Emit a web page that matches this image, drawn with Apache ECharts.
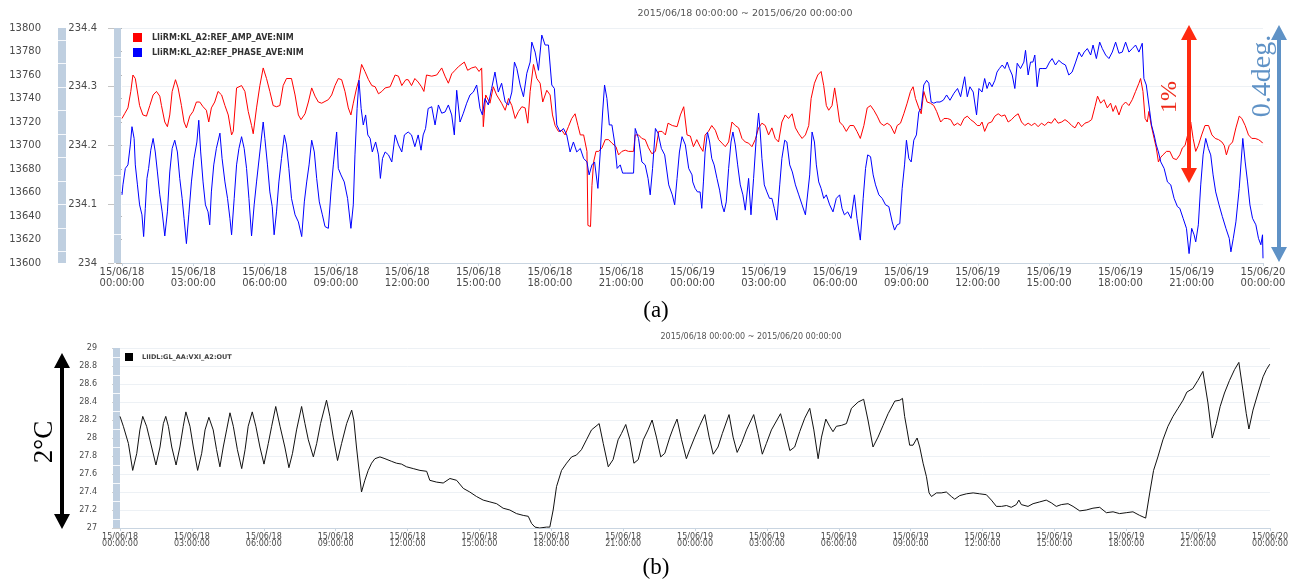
<!DOCTYPE html>
<html>
<head>
<meta charset="utf-8">
<script src="https://cdn.jsdelivr.net/npm/echarts@6/dist/echarts.min.js"></script>
<style>
html,body{margin:0;padding:0;background:#fff;}
#c{width:1292px;height:583px;}
</style>
</head>
<body>
<div id="c"></div>
<script>
// ---- Data (hours since 2015/06/18 00:00:00, value) ----
const xTickLabels = ['15/06/18\n00:00:00','15/06/18\n03:00:00','15/06/18\n06:00:00','15/06/18\n09:00:00','15/06/18\n12:00:00','15/06/18\n15:00:00','15/06/18\n18:00:00','15/06/18\n21:00:00','15/06/19\n00:00:00','15/06/19\n03:00:00','15/06/19\n06:00:00','15/06/19\n09:00:00','15/06/19\n12:00:00','15/06/19\n15:00:00','15/06/19\n18:00:00','15/06/19\n21:00:00','15/06/20\n00:00:00'];
const titleText = '2015/06/18 00:00:00 ~ 2015/06/20 00:00:00';
const ampName = 'LIiRM:KL_A2:REF_AMP_AVE:NIM';
const phaseName = 'LIiRM:KL_A2:REF_PHASE_AVE:NIM';
const tempName = 'LIIDL:GL_AA:VXI_A2:OUT';

const ampPoints = [[0,13723],[0.11,13727],[0.25,13732],[0.37,13746],[0.46,13760],[0.56,13757],[0.67,13743],[0.74,13734],[0.88,13726],[1.03,13725],[1.17,13734],[1.31,13743],[1.45,13746],[1.59,13742],[1.66,13734],[1.80,13720],[1.91,13716],[2.01,13726],[2.11,13746],[2.25,13756],[2.36,13749],[2.50,13734],[2.61,13720],[2.71,13715],[2.85,13725],[2.99,13729],[3.13,13737],[3.27,13737],[3.41,13733],[3.55,13730],[3.65,13720],[3.76,13732],[3.90,13737],[4.04,13746],[4.19,13743],[4.33,13734],[4.47,13726],[4.61,13709],[4.68,13712],[4.82,13749],[5.03,13751],[5.17,13746],[5.31,13729],[5.45,13717],[5.52,13710],[5.66,13732],[5.80,13751],[5.94,13766],[6.08,13757],[6.22,13746],[6.36,13734],[6.50,13733],[6.64,13734],[6.78,13751],[6.92,13757],[7.13,13757],[7.28,13743],[7.42,13726],[7.53,13722],[7.70,13727],[7.84,13737],[7.98,13749],[8.12,13742],[8.26,13737],[8.40,13736],[8.68,13739],[8.82,13743],[8.96,13751],[9.10,13757],[9.24,13756],[9.38,13746],[9.52,13732],[9.63,13726],[9.73,13736],[9.87,13749],[9.97,13756],[10.08,13769],[10.22,13763],[10.37,13756],[10.51,13751],[10.65,13750],[10.79,13744],[10.93,13746],[11.07,13749],[11.28,13750],[11.49,13760],[11.63,13759],[11.77,13751],[11.94,13756],
[12.04,13756],[12.18,13751],[12.32,13757],[12.46,13754],[12.60,13750],[12.70,13746],[12.81,13760],[13.03,13759],[13.24,13760],[13.45,13766],[13.59,13759],[13.73,13753],[13.87,13761],[14.01,13764],[14.15,13767],[14.40,13771],[14.54,13764],[14.71,13766],[14.88,13767],[15.02,13763],[15.13,13766],[15.20,13716],[15.30,13743],[15.48,13736],[15.62,13750],[15.76,13743],[15.97,13736],[16.12,13730],[16.26,13740],[16.40,13734],[16.54,13723],[16.68,13729],[16.82,13733],[16.96,13732],[17.07,13719],[17.17,13746],[17.31,13769],[17.45,13757],[17.59,13753],[17.70,13737],[17.87,13747],[18.01,13743],[18.11,13726],[18.22,13717],[18.36,13712],[18.50,13713],[18.64,13709],[18.78,13716],[18.92,13723],[19.06,13727],[19.18,13717],[19.28,13709],[19.42,13709],[19.56,13695],[19.60,13632],[19.71,13631],[19.77,13666],[19.84,13686],[19.94,13695],[20.05,13695],[20.19,13698],[20.33,13705],[20.47,13705],[20.61,13702],[20.78,13699],[20.89,13692],[21.03,13695],[21.17,13696],[21.31,13695],[21.52,13695],[21.59,13709],[21.73,13709],[21.87,13706],[22.01,13705],[22.15,13698],[22.29,13693],[22.44,13695],[22.58,13712],[22.72,13712],[22.86,13709],[22.97,13719],[23.15,13717],[23.35,13716],[23.49,13726],[23.63,13733],[23.77,13709],[23.91,13708],
[24.04,13699],[24.18,13705],[24.32,13699],[24.44,13695],[24.53,13709],[24.67,13712],[24.81,13717],[24.96,13713],[25.10,13705],[25.24,13702],[25.38,13699],[25.52,13703],[25.66,13720],[25.80,13717],[25.94,13715],[26.08,13706],[26.22,13703],[26.36,13702],[26.50,13699],[26.64,13705],[26.78,13715],[26.92,13719],[27.06,13717],[27.20,13709],[27.34,13715],[27.48,13706],[27.62,13703],[27.76,13720],[27.90,13726],[28.04,13723],[28.19,13727],[28.33,13715],[28.47,13710],[28.61,13706],[28.75,13709],[28.89,13717],[28.99,13740],[29.13,13753],[29.27,13760],[29.41,13763],[29.52,13751],[29.63,13734],[29.73,13730],[29.87,13734],[29.98,13749],[30.08,13736],[30.19,13720],[30.33,13717],[30.47,13712],[30.62,13717],[30.78,13717],[30.92,13712],[31.06,13706],[31.21,13717],[31.35,13732],[31.49,13734],[31.63,13730],[31.77,13725],[31.91,13719],[32.05,13717],[32.19,13719],[32.33,13717],[32.50,13710],[32.61,13717],[32.75,13719],[32.89,13727],[33.03,13736],[33.17,13746],[33.28,13750],[33.38,13740],[33.52,13732],[33.62,13727],[33.73,13746],[33.87,13737],[34.01,13736],[34.15,13734],[34.27,13729],[34.44,13720],[34.58,13723],[34.72,13723],[34.86,13722],[35.00,13717],[35.15,13719],[35.28,13717],[35.42,13723],[35.56,13725],[35.70,13722],[35.84,13720],[35.98,13717],[36.09,13717],
[36.18,13720],[36.29,13712],[36.44,13719],[36.58,13720],[36.72,13725],[36.86,13727],[37.00,13725],[37.14,13726],[37.28,13720],[37.42,13722],[37.56,13725],[37.70,13727],[37.84,13720],[37.98,13717],[38.12,13719],[38.26,13717],[38.40,13719],[38.54,13716],[38.68,13719],[38.82,13717],[38.96,13720],[39.10,13719],[39.24,13723],[39.38,13719],[39.53,13720],[39.67,13722],[39.81,13720],[39.95,13717],[40.09,13715],[40.23,13720],[40.37,13716],[40.51,13719],[40.65,13720],[40.79,13722],[40.93,13733],[41.04,13742],[41.17,13736],[41.31,13739],[41.45,13732],[41.59,13736],[41.69,13729],[41.80,13734],[41.94,13726],[42.08,13734],[42.22,13737],[42.36,13734],[42.50,13739],[42.64,13746],[42.78,13753],[42.85,13757],[42.95,13746],[43.04,13723],[43.13,13720],[43.20,13729],[43.30,13717],[43.42,13706],[43.51,13698],[43.60,13686],[43.70,13690],[43.79,13692],[43.94,13695],[44.08,13695],[44.22,13689],[44.36,13688],[44.50,13692],[44.61,13698],[44.72,13700],[44.83,13709],[44.96,13720],[45.06,13706],[45.17,13695],[45.28,13700],[45.42,13709],[45.56,13717],[45.71,13717],[45.85,13709],[45.99,13706],[46.13,13705],[46.27,13703],[46.37,13700],[46.46,13692],[46.58,13700],[46.72,13703],[46.86,13715],[47.00,13725],[47.11,13723],[47.25,13717],[47.39,13709],[47.53,13706],[47.67,13706],[47.81,13705],[47.95,13703],[47.98,13702]];

const phasePoints = [[0,234.116],[0.04,234.133],[0.14,234.161],[0.25,234.167],[0.35,234.201],[0.42,234.232],[0.51,234.212],[0.56,234.167],[0.65,234.133],[0.74,234.099],[0.84,234.082],[0.91,234.045],[0.98,234.093],[1.05,234.144],[1.12,234.161],[1.21,234.192],[1.31,234.212],[1.40,234.189],[1.49,234.155],[1.59,234.116],[1.69,234.087],[1.80,234.046],[1.91,234.087],[2.01,234.155],[2.11,234.195],[2.22,234.209],[2.33,234.189],[2.43,234.144],[2.53,234.110],[2.61,234.076],[2.71,234.033],[2.81,234.082],[2.92,234.138],[3.03,234.178],[3.15,234.206],[3.23,234.243],[3.31,234.189],[3.41,234.138],[3.51,234.099],[3.62,234.087],[3.69,234.065],[3.76,234.121],[3.86,234.167],[3.97,234.195],[4.12,234.221],[4.21,234.178],[4.33,234.138],[4.44,234.110],[4.54,234.076],[4.61,234.048],[4.72,234.110],[4.82,234.167],[4.92,234.195],[5.03,234.215],[5.14,234.195],[5.24,234.161],[5.34,234.110],[5.45,234.046],[5.56,234.099],[5.66,234.138],[5.80,234.189],[5.94,234.240],[6.01,234.212],[6.12,234.167],[6.22,234.121],[6.32,234.096],[6.40,234.048],[6.50,234.087],[6.60,234.138],[6.71,234.178],[6.83,234.218],[6.92,234.201],[7.02,234.161],[7.13,234.110],[7.28,234.082],[7.42,234.070],[7.56,234.045],[7.67,234.104],[7.77,234.138],[7.87,234.167],[7.98,234.209],[8.09,234.189],[8.19,234.144],[8.30,234.104],[8.43,234.082],[8.54,234.062],[8.68,234.059],[8.79,234.121],[8.89,234.167],[9.03,234.223],[9.10,234.161],[9.21,234.150],[9.35,234.138],[9.49,234.110],[9.63,234.059],[9.73,234.099],[9.80,234.184],[9.89,234.263],[9.97,234.311],[10.06,234.263],[10.15,234.235],[10.25,234.252],[10.34,234.218],[10.44,234.212],[10.53,234.189],[10.67,234.206],[10.79,234.184],[10.87,234.144],[10.96,234.178],[11.07,234.189],[11.21,234.184],[11.35,234.172],[11.49,234.218],[11.63,234.201],[11.77,234.189],[11.88,234.218],
[12.04,234.223],[12.18,234.218],[12.32,234.198],[12.46,234.218],[12.58,234.192],[12.67,234.218],[12.77,234.229],[12.88,234.263],[13.03,234.266],[13.17,234.235],[13.31,234.269],[13.45,234.255],[13.59,234.257],[13.73,234.269],[13.87,234.252],[13.98,234.218],[14.08,234.294],[14.22,234.240],[14.36,234.255],[14.50,234.272],[14.64,234.286],[14.78,234.291],[14.92,234.303],[15.06,234.263],[15.16,234.252],[15.27,234.280],[15.41,234.269],[15.55,234.297],[15.69,234.325],[15.83,234.291],[15.97,234.306],[16.12,234.274],[16.26,234.269],[16.40,234.291],[16.51,234.342],[16.61,234.331],[16.75,234.303],[16.89,234.283],[17.03,234.323],[17.17,234.342],[17.24,234.376],[17.38,234.359],[17.52,234.328],[17.66,234.388],[17.80,234.371],[17.94,234.371],[18.08,234.303],[18.19,234.297],[18.29,234.235],[18.43,234.223],[18.57,234.229],[18.71,234.218],[18.85,234.189],[18.99,234.206],[19.13,234.189],[19.28,234.195],[19.42,234.178],[19.56,234.172],[19.65,234.150],[19.77,234.167],[19.88,234.172],[20.02,234.127],[20.12,234.189],[20.22,234.257],[20.30,234.303],[20.40,234.280],[20.50,234.235],[20.61,234.235],[20.72,234.206],[20.83,234.161],[20.96,234.167],[21.06,234.153],[21.24,234.153],[21.52,234.153],[21.59,234.229],[21.73,234.212],[21.87,234.172],[22.01,234.167],[22.13,234.144],[22.22,234.116],[22.32,234.161],[22.44,234.229],[22.55,234.221],[22.69,234.195],[22.83,234.184],[23.00,234.133],[23.15,234.116],[23.25,234.099],[23.35,234.144],[23.45,234.189],[23.56,234.215],[23.70,234.201],[23.84,234.161],[23.98,234.150],
[24.01,234.138],[24.11,234.127],[24.21,234.121],[24.32,234.121],[24.39,234.093],[24.46,234.138],[24.53,234.189],[24.63,234.223],[24.72,234.206],[24.81,234.178],[24.91,234.167],[25.03,234.144],[25.14,234.124],[25.24,234.099],[25.33,234.087],[25.42,234.104],[25.52,234.161],[25.62,234.206],[25.70,234.223],[25.80,234.201],[25.90,234.167],[26.01,234.133],[26.12,234.116],[26.22,234.090],[26.36,234.144],[26.46,234.082],[26.57,234.144],[26.68,234.212],[26.78,234.255],[26.85,234.223],[26.92,234.178],[27.02,234.133],[27.13,234.121],[27.24,234.110],[27.34,234.110],[27.44,234.093],[27.55,234.073],[27.67,234.133],[27.76,234.178],[27.88,234.209],[27.97,234.206],[28.09,234.167],[28.20,234.155],[28.33,234.133],[28.47,234.116],[28.61,234.099],[28.75,234.082],[28.82,234.079],[28.93,234.150],[29.03,234.223],[29.13,234.206],[29.21,234.167],[29.31,234.138],[29.41,234.127],[29.52,234.110],[29.63,234.116],[29.77,234.099],[29.91,234.087],[30.05,234.110],[30.19,234.116],[30.29,234.093],[30.39,234.082],[30.53,234.087],[30.67,234.076],[30.81,234.116],[30.92,234.076],[31.06,234.039],[31.18,234.110],[31.28,234.161],[31.37,234.184],[31.49,234.181],[31.60,234.150],[31.70,234.133],[31.84,234.116],[31.98,234.110],[32.12,234.099],[32.26,234.096],[32.40,234.070],[32.50,234.056],[32.61,234.065],[32.72,234.067],[32.82,234.127],[32.92,234.167],[33.00,234.209],[33.10,234.178],[33.20,234.172],[33.31,234.209],[33.42,234.218],[33.52,234.257],[33.62,234.263],[33.73,234.303],[33.85,234.311],[33.94,234.306],[34.04,234.274],[34.15,234.272],[34.27,234.274],[34.41,234.274],[34.55,234.277],[34.69,234.286],[34.83,234.277],[35.00,234.289],[35.15,234.297],[35.28,234.283],[35.45,234.317],[35.56,234.283],[35.67,234.300],[35.81,234.291],[35.95,234.252],[36.05,234.297],
[36.18,234.291],[36.29,234.314],[36.39,234.297],[36.49,234.308],[36.60,234.300],[36.72,234.311],[36.81,234.325],[36.91,234.331],[37.03,234.337],[37.14,234.331],[37.24,234.342],[37.33,234.331],[37.45,234.320],[37.56,234.297],[37.66,234.340],[37.80,234.331],[37.94,234.342],[38.01,234.362],[38.12,234.320],[38.22,234.342],[38.32,234.342],[38.40,234.354],[38.50,234.300],[38.60,234.331],[38.74,234.331],[38.88,234.331],[39.02,234.342],[39.13,234.348],[39.27,234.337],[39.41,234.345],[39.55,234.340],[39.69,234.337],[39.83,234.320],[39.97,234.325],[40.12,234.342],[40.26,234.359],[40.37,234.351],[40.48,234.359],[40.61,234.365],[40.75,234.354],[40.85,234.371],[40.99,234.348],[41.13,234.376],[41.24,234.365],[41.38,234.354],[41.52,234.348],[41.66,234.359],[41.80,234.376],[41.94,234.357],[42.08,234.359],[42.22,234.376],[42.36,234.359],[42.50,234.365],[42.64,234.371],[42.78,234.359],[42.92,234.374],[42.99,234.314],[43.09,234.303],[43.20,234.269],[43.31,234.235],[43.42,234.218],[43.51,234.201],[43.60,234.189],[43.70,234.172],[43.84,234.161],[43.98,234.138],[44.12,234.133],[44.26,234.110],[44.40,234.096],[44.50,234.093],[44.64,234.076],[44.78,234.059],[44.89,234.016],[45.00,234.059],[45.10,234.048],[45.17,234.036],[45.28,234.065],[45.38,234.133],[45.48,234.184],[45.59,234.212],[45.70,234.195],[45.80,234.184],[45.90,234.150],[46.01,234.121],[46.15,234.099],[46.29,234.079],[46.44,234.059],[46.58,234.042],[46.65,234.019],[46.75,234.042],[46.86,234.070],[47.00,234.127],[47.15,234.212],[47.25,234.172],[47.35,234.138],[47.45,234.099],[47.56,234.076],[47.70,234.065],[47.81,234.042],[47.91,234.031],[47.98,234.048],[48.00,234.008]];

const tempPoints = [[0,28.24],[0.14,28.13],[0.35,27.94],[0.53,27.64],[0.70,27.83],[0.83,28.09],[0.95,28.24],[1.11,28.13],[1.32,27.90],[1.50,27.70],[1.67,27.90],[1.81,28.16],[1.91,28.24],[2.02,28.13],[2.16,27.90],[2.34,27.70],[2.50,27.90],[2.64,28.13],[2.75,28.29],[2.92,28.13],[3.06,27.90],[3.24,27.64],[3.41,27.83],[3.55,28.09],[3.71,28.23],[3.89,28.09],[4.03,27.87],[4.17,27.68],[4.31,27.90],[4.45,28.09],[4.59,28.28],[4.73,28.13],[4.90,27.87],[5.08,27.66],[5.22,27.87],[5.35,28.13],[5.52,28.29],[5.67,28.13],[5.84,27.90],[6.01,27.71],[6.19,27.94],[6.33,28.13],[6.50,28.35],[6.68,28.13],[6.88,27.90],[7.05,27.67],[7.20,27.83],[7.37,28.09],[7.58,28.35],[7.72,28.16],[7.86,27.98],[8.07,27.79],[8.21,27.94],[8.37,28.16],[8.62,28.42],[8.76,28.24],[8.90,28.01],[9.08,27.75],[9.25,27.94],[9.46,28.16],[9.67,28.31],[9.76,28.20],[9.87,27.90],[9.99,27.61],[10.08,27.40],[10.22,27.53],[10.36,27.64],[10.50,27.72],[10.64,27.77],[10.85,27.79],[11.06,27.77],[11.34,27.74],[11.54,27.72],[11.75,27.71],[11.96,27.68],[12.24,27.66],[12.52,27.64],[12.80,27.63],[12.93,27.53],[13.21,27.51],[13.49,27.50],[13.77,27.55],[14.05,27.53],[14.33,27.44],[14.60,27.40],[14.88,27.35],[15.16,27.31],[15.44,27.29],[15.72,27.27],[15.99,27.22],[16.27,27.20],[16.55,27.16],[16.83,27.14],[17.04,27.13],[17.18,27.05],[17.32,27.01],[17.52,27.00],[17.80,27.01],[17.94,27.01],[18.08,27.20],[18.22,27.46],[18.43,27.64],[18.64,27.72],[18.85,27.79],[19.05,27.81],[19.26,27.87],[19.47,27.98],[19.68,28.09],[20.00,28.16],[20.17,27.94],[20.38,27.68],[20.58,27.76],[20.79,27.98],[20.93,28.05],[21.11,28.15],[21.28,27.98],[21.45,27.72],[21.63,27.76],[21.84,27.98],[22.04,28.09],[22.21,28.20],[22.39,28.01],[22.57,27.79],[22.74,27.83],[22.95,28.01],[23.09,28.11],[23.25,28.21],[23.44,27.98],[23.64,27.77],[23.78,27.87],[23.99,28.01],[24.20,28.14],[24.41,28.26],[24.59,28.01],[24.76,27.82],[24.96,27.90],[25.14,28.05],[25.42,28.26],[25.59,28.01],[25.76,27.84],[25.94,27.94],[26.15,28.09],[26.45,28.26],[26.63,28.05],[26.81,27.82],[26.98,27.94],[27.19,28.09],[27.57,28.27],[27.75,28.09],[27.96,27.86],[28.16,27.90],[28.37,28.07],[28.58,28.22],[28.79,28.33],[28.96,28.09],[29.14,27.77],[29.28,28.01],[29.46,28.21],[29.62,28.13],[29.76,28.07],[29.90,28.13],[30.11,28.14],[30.32,28.16],[30.53,28.33],[30.81,28.40],[31.04,28.43],[31.22,28.20],[31.43,27.90],[31.64,28.01],[31.85,28.14],[32.06,28.27],[32.34,28.41],[32.55,28.42],[32.66,28.44],[32.75,28.24],[32.85,28.09],[32.96,27.92],[33.10,27.92],[33.27,28.00],[33.38,27.90],[33.52,27.72],[33.66,27.57],[33.77,27.39],[33.87,27.35],[34.08,27.39],[34.28,27.39],[34.49,27.40],[34.70,27.35],[34.84,27.32],[35.05,27.36],[35.33,27.38],[35.61,27.39],[35.88,27.38],[36.16,27.37],[36.37,27.31],[36.58,27.24],[36.79,27.24],[37.00,27.25],[37.20,27.23],[37.41,27.26],[37.52,27.31],[37.62,27.26],[37.90,27.24],[38.11,27.27],[38.39,27.29],[38.66,27.31],[38.87,27.28],[39.08,27.24],[39.29,27.26],[39.57,27.27],[39.78,27.24],[40.06,27.19],[40.33,27.20],[40.61,27.22],[40.89,27.23],[41.17,27.17],[41.45,27.18],[41.72,27.16],[42.00,27.17],[42.28,27.18],[42.56,27.14],[42.81,27.11],[42.98,27.39],[43.14,27.64],[43.32,27.79],[43.53,27.98],[43.74,28.13],[43.95,28.24],[44.16,28.33],[44.37,28.42],[44.53,28.51],[44.78,28.55],[44.99,28.64],[45.20,28.74],[45.41,28.39],[45.59,28.00],[45.76,28.16],[45.92,28.35],[46.10,28.50],[46.31,28.64],[46.52,28.76],[46.70,28.84],[46.87,28.53],[47.01,28.27],[47.12,28.10],[47.29,28.31],[47.50,28.50],[47.71,28.68],[47.85,28.76],[47.99,28.82]];

// ---- Chart ----
const chart = echarts.init(document.getElementById('c'), null, {renderer: 'canvas'});
const SANS = 'DejaVu Sans';
const SERIF = 'Liberation Serif';
const labelColor = '#4a4a4a';
const gridColor = '#edf1f5';
const axisColor = '#c9d5e1';
const barColor = '#bfcfe0';

function fmt1(v){ return String(Math.round(v*10)/10); }
function xFmt(v){ return xTickLabels[Math.round(v/3)]; }

const graphics = [];
// axis bars
function bar(x, y, w, h, lines){
  graphics.push({type:'rect', shape:{x:x, y:y, width:w, height:h}, style:{fill:barColor}, silent:true, z:1});
  lines.forEach(ly => graphics.push({type:'line', shape:{x1:x, y1:ly, x2:x+w, y2:ly}, style:{stroke:'rgba(255,255,255,0.85)', lineWidth:1}, silent:true, z:2}));
}
const l1 = []; for (let k=0;k<10;k++) l1.push(Math.round(28 + 23.5*(k+0.5)) + 0.5);
bar(58, 28, 8, 235, l1);
const l2 = []; for (let k=0;k<4;k++) l2.push(Math.round(28 + 58.75*(k+0.5)) + 0.5);
bar(114, 28, 7, 235, l2);
const l3 = []; for (let k=0;k<10;k++) l3.push(Math.round(348 + 18*(k+0.5)) + 0.5);
bar(113, 348, 7, 180, l3);

// titles
graphics.push({type:'text', x:745, y:14, style:{text:titleText, font:'9.5px "'+SANS+'"', fill:'#555', align:'center', verticalAlign:'middle'}, silent:true});
graphics.push({type:'text', x:751, y:337, style:{text:titleText, font:'8px "'+SANS+'"', fill:'#555', align:'center', verticalAlign:'middle'}, silent:true});
// (a) (b)
graphics.push({type:'text', x:656, y:311, style:{text:'(a)', font:'23px "'+SERIF+'"', fill:'#000', align:'center', verticalAlign:'middle'}, silent:true});
graphics.push({type:'text', x:656, y:568, style:{text:'(b)', font:'23px "'+SERIF+'"', fill:'#000', align:'center', verticalAlign:'middle'}, silent:true});

// double arrows
function dArrow(x, y1, y2, color){
  graphics.push({type:'line', shape:{x1:x, y1:y1+12, x2:x, y2:y2-12}, style:{stroke:color, lineWidth:4}, silent:true, z:10});
  graphics.push({type:'polygon', shape:{points:[[x,y1],[x-8,y1+15],[x+8,y1+15]]}, style:{fill:color}, silent:true, z:10});
  graphics.push({type:'polygon', shape:{points:[[x,y2],[x-8,y2-15],[x+8,y2-15]]}, style:{fill:color}, silent:true, z:10});
}
dArrow(1189, 25, 183, '#ff2a10');
dArrow(1279, 25, 262, '#5f92c6');
dArrow(62, 353, 529, '#000');
function vText(x, y, text, size, color){
  graphics.push({type:'text', x:x, y:y, rotation:Math.PI/2, style:{text:text, font:size+'px "'+SERIF+'"', fill:color, align:'center', verticalAlign:'middle'}, silent:true, z:10});
}
vText(1170, 97, '1%', 24, '#ee2a1a');
vText(1263, 76, '0.4deg.', 28, '#5f92c6');
vText(45, 442, '2°C', 27, '#000');

const option = {
  animation: false,
  backgroundColor: '#fff',
  grid: [
    {left:122, top:28, width:1141, height:235},
    {left:120, top:348, width:1150, height:180}
  ],
  legend: [
    {gridIndex:0, data:[ampName, phaseName], orient:'vertical', left:133, top:33, padding:0, itemWidth:9, itemHeight:9, itemGap:6, icon:'rect',
     textStyle:{fontFamily:SANS, fontSize:8, fontWeight:'bold', color:'#333', padding:[0,0,0,5]}, selectedMode:false},
    {data:[tempName], left:125, top:353, padding:0, itemWidth:8, itemHeight:8, icon:'rect',
     textStyle:{fontFamily:SANS, fontSize:6.5, fontWeight:'bold', color:'#444', padding:[0,0,0,4]}, selectedMode:false}
  ],
  xAxis: [
    {type:'value', gridIndex:0, min:0, max:48, interval:3,
     axisLine:{show:true, lineStyle:{color:axisColor}}, axisTick:{show:true, length:3, lineStyle:{color:axisColor}},
     splitLine:{show:false},
     axisLabel:{formatter:xFmt, fontFamily:SANS, fontSize:10, lineHeight:11, color:labelColor, margin:4}},
    {type:'value', gridIndex:1, min:0, max:48, interval:3,
     axisLine:{show:true, lineStyle:{color:axisColor}}, axisTick:{show:true, length:3, lineStyle:{color:axisColor}},
     splitLine:{show:false},
     axisLabel:{formatter:xFmt, fontFamily:SANS, fontSize:8, lineHeight:7.5, color:labelColor, margin:5}}
  ],
  yAxis: [
    {type:'value', gridIndex:0, position:'left', offset:64, min:13600, max:13800, interval:20,
     axisLine:{show:false}, axisTick:{show:true, length:6, lineStyle:{color:'#b5b5b5'}}, splitLine:{show:false},
     axisLabel:{formatter:v=>String(v), fontFamily:SANS, fontSize:10, color:labelColor, margin:17}},
    {type:'value', gridIndex:0, position:'left', offset:8, min:234, max:234.4, interval:0.1,
     axisLine:{show:false}, axisTick:{show:true, length:6, lineStyle:{color:'#c4c4c4'}}, splitLine:{show:true, lineStyle:{color:gridColor}},
     axisLabel:{formatter:fmt1, fontFamily:SANS, fontSize:10, color:labelColor, margin:17}},
    {type:'value', gridIndex:1, position:'left', offset:13, min:27, max:29, interval:0.2,
     axisLine:{show:false}, axisTick:{show:true, length:8, lineStyle:{color:'#d0d0d0'}}, splitLine:{show:true, lineStyle:{color:gridColor}},
     axisLabel:{formatter:fmt1, fontFamily:SANS, fontSize:8, color:labelColor, margin:10}}
  ],
  series: [
    {name:ampName, type:'line', xAxisIndex:0, yAxisIndex:0, data:ampPoints, symbol:'none', color:'#ff0000', lineStyle:{width:1, color:'#ff0000'}, z:3},
    {name:phaseName, type:'line', xAxisIndex:0, yAxisIndex:1, data:phasePoints, symbol:'none', color:'#0000ff', lineStyle:{width:1, color:'#0000ff'}, z:4},
    {name:tempName, type:'line', xAxisIndex:1, yAxisIndex:2, data:tempPoints, symbol:'none', color:'#000', lineStyle:{width:1, color:'#111'}, z:3}
  ],
  graphic: graphics
};
chart.setOption(option);
</script>
</body>
</html>
